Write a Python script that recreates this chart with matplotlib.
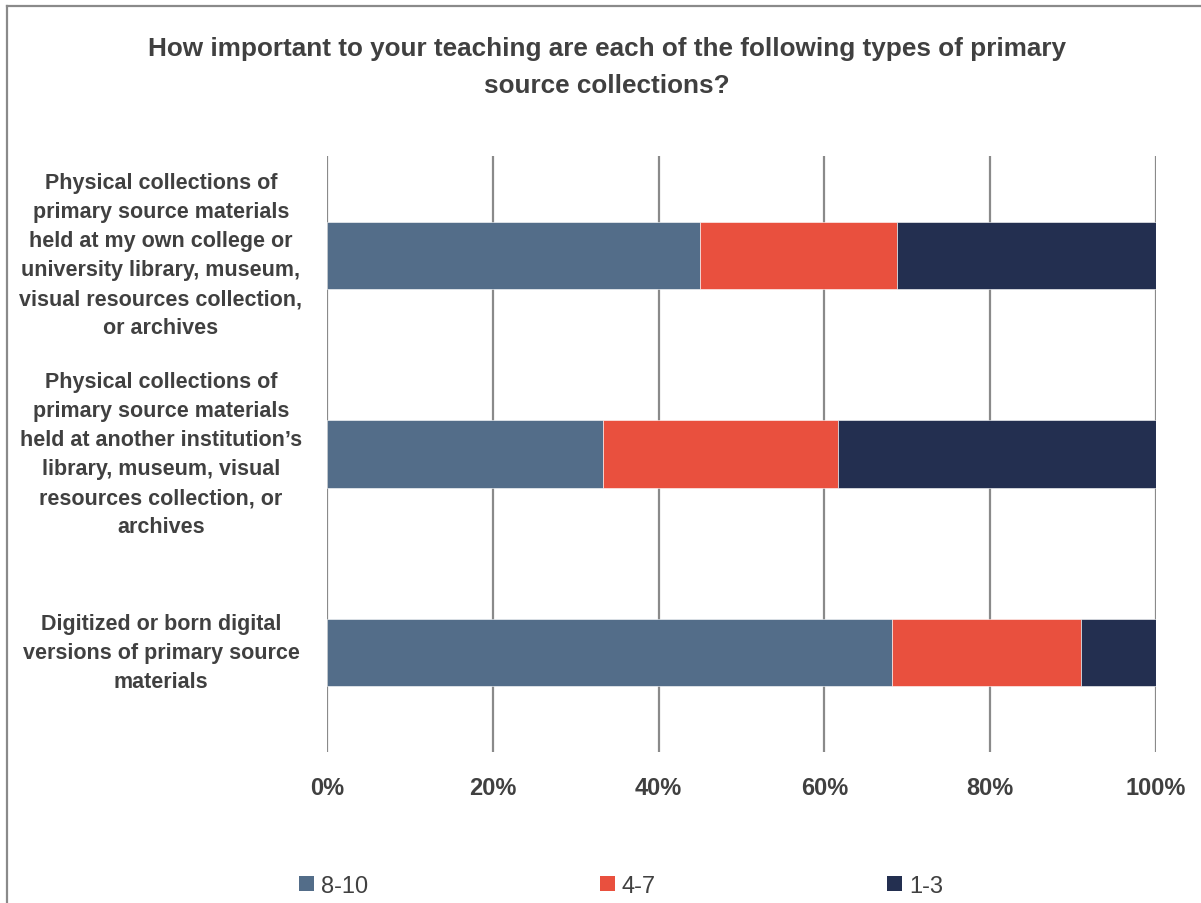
import matplotlib
matplotlib.use("Agg")
import matplotlib.pyplot as plt
import matplotlib.transforms as mtransforms
from matplotlib.lines import Line2D
from matplotlib.patches import Patch
from matplotlib import font_manager

plt.rcParams['font.family'] = ['Liberation Sans', 'DejaVu Sans']
_names = {f.name for f in font_manager.fontManager.ttflist}
narrow_ok = 'Liberation Sans Narrow' in _names
narrow = ['Liberation Sans Narrow', 'Liberation Sans'] if narrow_ok else ['Liberation Sans']

categories = [
    "Physical collections of\nprimary source materials\nheld at my own college or\nuniversity library, museum,\nvisual resources collection,\nor archives",
    "Physical collections of\nprimary source materials\nheld at another institution\u2019s\nlibrary, museum, visual\nresources collection, or\narchives",
    "Digitized or born digital\nversions of primary source\nmaterials",
]
series_names = ["8-10", "4-7", "1-3"]
val_8_10 = [45.0, 33.3, 68.2]
val_4_7 = [23.8, 28.4, 22.8]
val_1_3 = [31.2, 38.3, 9.0]
tick_vals = [0, 20, 40, 60, 80, 100]
tick_labels = ["0%", "20%", "40%", "60%", "80%", "100%"]
title = "How important to your teaching are each of the following types of primary\nsource collections?"

colors = ["#536D89", "#E9503E", "#232F50"]
text_color = "#404040"
grid_color = "#8A8A8A"

W, H = 1201, 904
fig = plt.figure(figsize=(W / 100, H / 100), dpi=100)
ax = fig.add_axes([327 / W, 1 - 753 / H, (1156 - 327) / W, (753 - 157) / H])

ypos = list(range(len(categories)))
left = [0.0] * len(categories)
for name, vals, c in zip(series_names, [val_8_10, val_4_7, val_1_3], colors):
    ax.barh(ypos, vals, left=left, height=0.34, color=c, label=name,
            edgecolor="white", linewidth=0.4, zorder=3)
    left = [l + v for l, v in zip(left, vals)]

ax.set_xlim(0, 100)
ax.set_ylim(len(categories) - 0.5, -0.5)
ax.set_xticks(tick_vals)
tick_fs = 20 if narrow_ok else 17
ax.set_xticklabels(tick_labels, fontsize=tick_fs, fontweight="bold", color=text_color,
                   family=narrow)
ax.tick_params(axis="x", length=0, pad=17)
ax.set_yticks([])
for s in ax.spines.values():
    s.set_visible(False)
ax.grid(axis="x", color=grid_color, linewidth=1.6, zorder=1)

trans = mtransforms.blended_transform_factory(fig.transFigure, ax.transData)
for y, lab in zip(ypos, categories):
    ax.text(161 / W, y, lab, transform=trans, ha="center", va="center",
            multialignment="center", fontsize=15.5, fontweight="bold",
            color=text_color, linespacing=1.5)

fig.text(607 / W, 1 - 67.5 / H, title, ha="center", va="center",
         fontsize=18.8, fontweight="bold", color=text_color, linespacing=1.65)

handles = [Patch(facecolor=c, edgecolor="none") for c in colors]
leg_fs = 20 if narrow_ok else 17
px = leg_fs * 100 / 72
fig.legend(handles, series_names, loc="center left",
           bbox_to_anchor=(299 / W, 1 - 887 / H), ncol=3, frameon=False,
           prop={'family': narrow, 'size': leg_fs}, labelcolor=text_color,
           handlelength=15 / px, handleheight=15 / px,
           handletextpad=7 / px, columnspacing=9.8,
           borderaxespad=0, borderpad=0)

fig.add_artist(Line2D([7 / W, 7 / W], [0, 1 - 7 / H], transform=fig.transFigure,
                      color="#8A8A8A", linewidth=1.6))
fig.add_artist(Line2D([7 / W, 1], [1 - 7 / H, 1 - 7 / H], transform=fig.transFigure,
                      color="#8A8A8A", linewidth=1.6))

fig.savefig("out.png", dpi=100, facecolor="white")
